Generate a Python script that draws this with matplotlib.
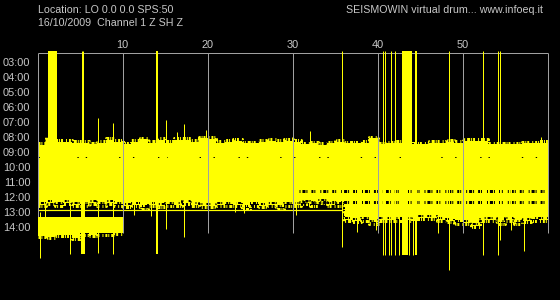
import numpy as np
import matplotlib
matplotlib.use('Agg')
import matplotlib.pyplot as plt

# Drum record, x = minutes past the hour, y = hour row (03:00 .. 14:00)
hour_ticks = list(range(3, 15))
hour_labels = ['%02d:00' % h for h in hour_ticks]
minute_ticks = [10, 20, 30, 40, 50]
grid_minutes = [0, 10, 20, 30, 40, 50, 60]

# envelope of the overlapping traces, one value per minute (0..59), in hours
mass_top = [8.55, 8.09, 8.33, 8.35, 8.40, 8.42, 8.49, 8.42, 8.22, 8.35,
            8.49, 8.35, 8.17, 8.40, 8.22, 8.40, 8.22, 8.22, 8.33, 8.09,
            8.15, 8.40, 8.33, 8.27, 8.44, 8.44, 8.33, 8.27, 8.33, 8.27,
            8.33, 8.49, 8.44, 8.55, 8.44, 8.33, 8.44, 8.44, 8.40, 8.09,
            8.49, 8.44, 8.42, 8.42, 8.49, 8.49, 8.40, 8.40, 8.33, 8.40,
            8.27, 8.27, 8.27, 8.49, 8.49, 8.49, 8.49, 8.44, 8.44, 8.40]
mass_bottom = [12.55, 12.42, 12.49, 12.42, 12.55, 12.49, 12.42, 12.49, 12.42, 12.49,
               12.62, 12.55, 12.69, 12.55, 12.62, 12.49, 12.55, 12.42, 12.55, 12.62,
               12.62, 12.55, 12.49, 12.55, 12.69, 12.49, 12.62, 12.55, 12.69, 12.49,
               12.55, 12.42, 12.49, 12.35, 12.55, 12.49, 13.55, 13.62, 13.49, 13.69,
               13.55, 13.55, 13.49, 13.55, 13.42, 13.42, 13.42, 13.55, 13.62, 13.69,
               13.75, 13.95, 13.55, 13.55, 13.69, 13.55, 13.69, 13.62, 13.49, 13.55]

# last row (14:00), recorded only for the first ten minutes
row14_top = 13.35
row14_bottom = [14.62, 14.67, 14.55, 14.55, 14.75, 14.44, 14.55, 14.44, 14.44, 14.40]

# flat line of the 13:00 row before its data starts
flat_hour = 12.907
flat_end = 36.0

# single spikes: minute, top, bottom (hours)
spikes = [
    (0.27, 13.00, 16.09), (0.94, 12.40, 13.40), (3.88, 12.40, 15.82),
    (5.18, 2.29, 10.0), (5.41, 2.29, 10.0), (7.09, 6.73, 15.75),
    (8.88, 7.07, 15.82), (11.33, 10.0, 13.22), (13.41, 10.0, 13.27),
    (15.09, 6.89, 14.15), (16.41, 7.69, 10.0), (17.21, 7.15, 14.69),
    (19.88, 7.55, 10.0), (23.21, 10.0, 13.00), (24.27, 10.0, 13.09),
    (29.92, 8.00, 10.0), (30.47, 10.0, 13.22), (32.04, 7.62, 10.0),
    (35.80, 2.29, 15.33), (37.53, 10.0, 14.33), (39.88, 10.0, 14.22),
    (40.59, 2.29, 15.89), (40.94, 2.29, 15.89), (41.33, 10.0, 15.89),
    (41.61, 2.29, 15.89), (42.02, 2.29, 15.89), (42.51, 10.0, 15.89),
    (43.76, 2.29, 15.89), (44.15, 10.0, 15.89), (44.39, 4.27, 10.0),
    (47.09, 10.0, 14.42), (48.39, 2.29, 16.89), (52.41, 2.29, 15.89),
    (54.15, 2.29, 15.89), (54.47, 2.29, 14.89), (55.73, 10.0, 14.22),
    (57.21, 10.0, 15.60), (59.26, 8.00, 10.0),
]

# wide bursts: start minute, end minute, top, bottom (hours)
bursts = [
    (1.26, 2.24, 2.29, 10.0), (5.14, 5.53, 10.0, 15.82),
    (13.93, 14.17, 2.29, 15.82), (42.91, 43.53, 2.29, 15.89),
    (43.53, 44.08, 2.29, 10.0), (44.45, 44.68, 2.29, 15.89),
]

# rows of black dropouts inside the mass: start minute, end minute, hour
dropouts = [(30.8, 60.0, 11.607), (30.8, 60.0, 12.333), (0.0, 60.0, 9.35)]

YELLOW = '#ffff00'
GRID = '#a0a0a0'
TEXT = '#c8c8c8'
px = 0.72  # one pixel in points at 100 dpi
grass = (0, (1.4, 0.7, 0.7, 1.4, 2.2, 0.7, 0.7, 0.7, 1.4, 2.2, 0.7, 1.4))
specks = (0, (0.7, 1.4, 2.2, 0.7, 0.7, 2.9, 1.4, 0.7, 0.7, 3.6))

plt.rcParams['font.family'] = ['Liberation Sans', 'DejaVu Sans']
plt.rcParams['lines.scale_dashes'] = False

fig = plt.figure(figsize=(5.6, 3.0), dpi=100, facecolor='black')
ax = fig.add_axes([37.5 / 560, 0, 510 / 560, 249 / 300])
ax.set_facecolor('black')
ax.set_xlim(0, 60)
ax.set_ylim(18.887, 2.287)

x_edges = np.arange(61)
top_s = np.array(mass_top + [mass_top[-1]])
bot_s = np.array(mass_bottom + [mass_bottom[-1]])
ax.fill_between(x_edges, top_s, bot_s, step='post', color=YELLOW, lw=0, zorder=2)
# ragged fringe along both edges
ax.step(x_edges, top_s - 0.1, where='post', color=YELLOW, lw=3 * px, ls=grass, zorder=2)
ax.step(x_edges, bot_s + 0.1, where='post', color=YELLOW, lw=3 * px, ls=grass, zorder=2)
ax.step(x_edges, bot_s - 0.1, where='post', color='black', lw=2 * px, ls=specks, zorder=3)
for x0, x1, hour in dropouts[:2]:
    ax.hlines(hour, x0, x1, colors='black', lw=3 * px, zorder=3, linestyles=specks)
x0, x1, hour = dropouts[2]
ax.hlines(hour, x0, x1, colors='black', lw=1 * px, zorder=3,
          linestyles=(0, (1, 9, 1, 17, 1, 5, 1, 23)))
ax.hlines(flat_hour, 0, flat_end, colors=YELLOW, lw=1.2 * px, zorder=2)

ax.vlines(grid_minutes, 2.42, 14.42, colors=GRID, lw=px, zorder=4, clip_on=False)
ax.hlines(2.42, 0, 60, colors=GRID, lw=px, zorder=4, clip_on=False)

ax.fill_between(np.arange(11), [row14_top] * 11, row14_bottom + [row14_bottom[-1]],
                step='post', color=YELLOW, lw=0, zorder=5)
ax.step(np.arange(11), np.array(row14_bottom + [row14_bottom[-1]]) + 0.1, where='post',
        color=YELLOW, lw=3 * px, ls=grass, zorder=5)

for m, top, bottom in spikes:
    ax.vlines(m, top, bottom, colors=YELLOW, lw=px, zorder=5)
for x0, x1, top, bottom in bursts:
    ax.fill_between([x0, x1], top, bottom, color=YELLOW, lw=0, zorder=5)

ax.xaxis.tick_top()
ax.set_xticks(minute_ticks)
ax.set_xticklabels([str(m) for m in minute_ticks])
ax.set_yticks(hour_ticks)
ax.set_yticklabels(hour_labels)
ax.tick_params(axis='x', length=0, pad=0.8, labelsize=7.9, labelcolor=TEXT)
ax.tick_params(axis='y', length=0, pad=5.0, labelsize=7.9, labelcolor=TEXT)
for s in ax.spines.values():
    s.set_visible(False)

fig.text(38 / 560, 1 - 10 / 300, 'Location: LO 0.0 0.0 SPS:50', color=TEXT,
         fontsize=7.7, ha='left', va='center')
fig.text(38 / 560, 1 - 23.3 / 300, '16/10/2009  Channel 1 Z SH Z', color=TEXT,
         fontsize=7.7, ha='left', va='center')
fig.text(543.5 / 560, 1 - 10 / 300, 'SEISMOWIN virtual drum... www.infoeq.it', color=TEXT,
         fontsize=7.7, ha='right', va='center')

fig.savefig('out.png', dpi=100, facecolor='black')
